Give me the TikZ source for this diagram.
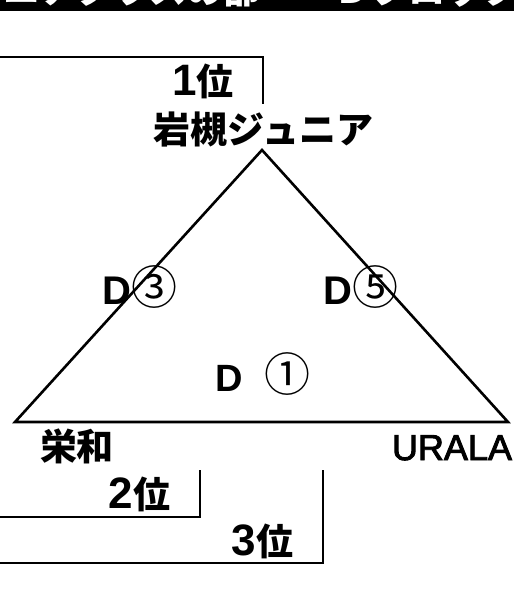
\documentclass[tikz,border=0pt]{standalone}
\usepackage{fontspec}
\newfontfamily\jpf{Noto Sans CJK JP}
\newfontfamily\latf{Liberation Sans}[FakeBold=2.5]
\newfontfamily\latb{Liberation Sans Bold}
\newcommand\digb[1]{{\latb\fontsize{44}{48}\selectfont #1}}
\newcommand\dletter[1]{{\latb\fontsize{#1}{44}\selectfont D}}
\newcommand\circn[1]{{\jpf\mdseries\fontsize{46}{50}\selectfont #1}}
\begin{document}
\begin{tikzpicture}[x=1pt,y=-1pt,
  lbl/.style={inner sep=0pt, anchor=base, font=\jpf\bfseries\fontsize{37}{40}\selectfont},
  edge/.style={line width=2.6pt, line join=miter},
  bracket/.style={line width=2.8pt}]
\useasboundingbox (0,0) rectangle (514,606);
% title bar (cropped at the top of the picture)
\begin{scope}
  \clip (0,0) rectangle (514,11);
  \fill[black] (0,0) rectangle (514,11);
  \node[lbl, anchor=base west, text=white] (title) at (-68,3) {ジュニアクラスの部　　Ｄブロック};
\end{scope}
% triangle
\coordinate (top) at (262,150);
\coordinate (left) at (15,422);
\coordinate (right) at (508,422);
\draw[edge] (left) -- (top) -- (right) -- cycle;
% team labels
\node[lbl] (iwa) at (263.5,143) {岩槻ジュニア};
\node[lbl, font=\latf\fontsize{36}{40}\selectfont] (urala) at (452,460) {URALA};
\node[lbl] (sakae) at (77,460) {栄和};
% match labels
\node[lbl] (d3) at (140,304) {\dletter{40}\hspace{1pt}\circn{③}};
\node[lbl] (d5) at (361,304) {\dletter{40}\hspace{1pt}\circn{⑤}};
\node[lbl] (d1) at (263,391) {\dletter{38}\hspace{22pt}\circn{①}};
% ranking brackets
\coordinate (b1a) at (0,57);
\coordinate (b1b) at (263,57);
\coordinate (b1c) at (263,104);
\draw[bracket] (b1a) -- (b1b) -- (b1c);
\node[lbl] (r1) at (203,95) {\digb{1}位};
\coordinate (b2a) at (200,470);
\coordinate (b2b) at (200,517);
\coordinate (b2c) at (0,517);
\draw[bracket] (b2a) -- (b2b) -- (b2c);
\node[lbl] (r2) at (139.5,508) {\digb{2}位};
\coordinate (b3a) at (323,470);
\coordinate (b3b) at (323,563);
\coordinate (b3c) at (0,563);
\draw[bracket] (b3a) -- (b3b) -- (b3c);
\node[lbl] (r3) at (262.5,555) {\digb{3}位};
\end{tikzpicture}
\end{document}
